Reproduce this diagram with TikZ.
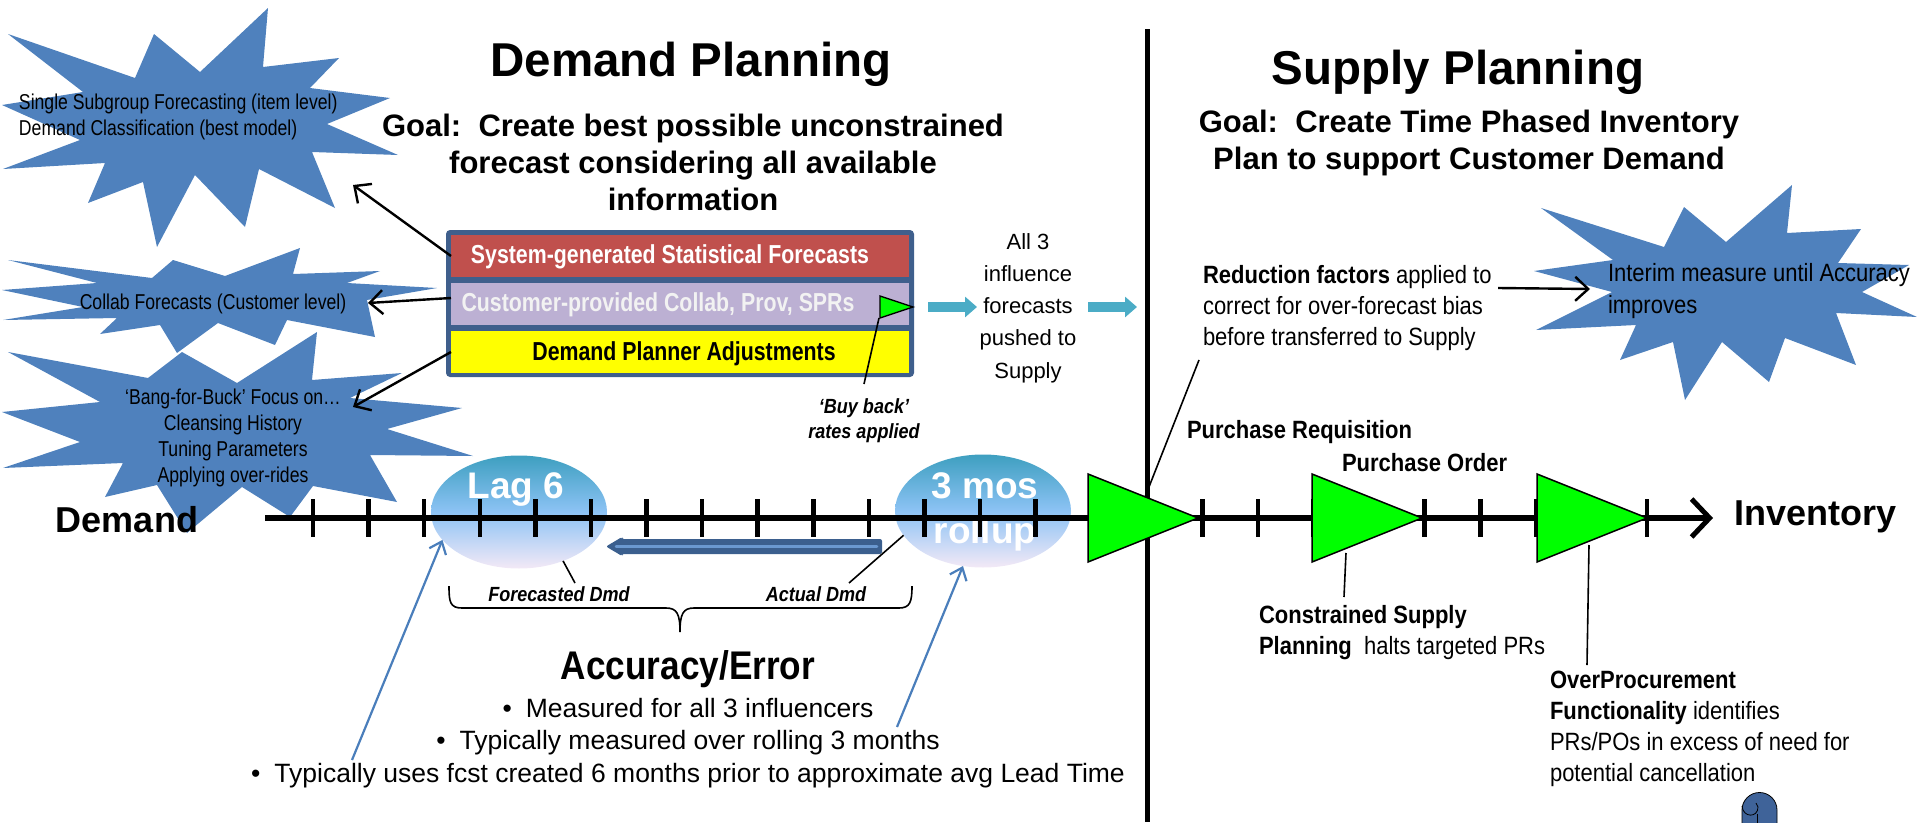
\documentclass[tikz,border=0pt]{standalone}
\usepackage{fontspec}
\setmainfont{Liberation Sans}
\newfontfamily\narrowfont[FakeStretch=0.82]{Liberation Sans}
\newfontfamily\semifont[FakeStretch=0.88]{Liberation Sans}
\usetikzlibrary{arrows.meta,shapes.geometric,calc}
\newcommand{\setfs}[2]{\fontsize{#1}{#2}\selectfont}

\definecolor{starblue}{HTML}{4F81BD}
\definecolor{framebl}{HTML}{3F5F8C}
\definecolor{rowred}{HTML}{C0504D}
\definecolor{rowlav}{HTML}{BCB0D3}
\definecolor{rowyel}{HTML}{FFFF00}
\definecolor{tealar}{HTML}{4BACC6}
\definecolor{ellTop}{HTML}{3E9FC0}
\definecolor{ellMid}{HTML}{8DC3F5}
\definecolor{ellBot}{HTML}{F3E9F6}
\definecolor{bigdark}{HTML}{3B5F8E}
\definecolor{biglight}{HTML}{6A98D0}
\definecolor{flaggreen}{HTML}{00FF00}
\definecolor{upblue}{HTML}{4A7EBB}
\definecolor{scrollbl}{HTML}{3F6399}

\tikzset{
  lbl/.style={inner sep=0pt, outer sep=0pt},
  headtxt/.style={lbl, font=\bfseries\setfs{47.5}{57}},
  goaltxt/.style={lbl, font=\bfseries\setfs{31}{37}, align=center},
  startxt/.style={lbl, font=\narrowfont\setfs{21.5}{26}},
  rowtxt/.style={lbl, font=\narrowfont\bfseries\setfs{26}{30}},
  rowbox/.style={lbl, minimum width=458pt, minimum height=42pt},
  axistxt/.style={lbl, font=\bfseries\setfs{36}{42}},
  elltxt/.style={lbl, text=white, font=\bfseries\setfs{37}{45}, align=center},
  smallit/.style={lbl, font=\semifont\bfseries\itshape\setfs{20.5}{25}, align=center},
  notetxt/.style={lbl, font=\semifont\setfs{25}{31}, align=left},
  pushtxt/.style={lbl, font=\setfs{22}{32.3}, align=center},
  bullettxt/.style={lbl, font=\setfs{26.5}{32.5}, align=center},
  blkarrow/.style={line width=2.4pt, -{Straight Barb[length=13pt,width=24pt,line width=2.4pt]}},
  uparrow/.style={upblue, line width=2.2pt, -{Straight Barb[length=11pt,width=18pt,line width=2.2pt]}},
  thinline/.style={line width=1.6pt},
  tealarrow/.style={tealar, line width=10pt, -{Triangle[length=12pt,width=20pt]}},
  tickmark/.style={line width=4.5pt},
  gtri/.style={fill=flaggreen, draw=black, line width=1.5pt, line join=miter},
  ellshape/.style={ellipse, lbl, minimum width=176pt, minimum height=113pt,
    top color=ellTop, bottom color=ellBot, middle color=ellMid},
}

\begin{document}
\begin{tikzpicture}[x=1pt,y=-1pt]
\useasboundingbox (0,0) rectangle (1917,822);

% ---- starbursts ----
\fill[starblue] (8,34) -- (135,78) -- (154,34) -- (200,72) -- (268,8) -- (263,67) -- (339,58) -- (310,88) -- (390,98) -- (327,124) -- (398,155) -- (312,152) -- (335,208) -- (259,169) -- (245,227) -- (195,175) -- (157,247) -- (143,182) -- (88,203) -- (105,163) -- (3,169) -- (80,140) -- (2,105) -- (83,92) -- cycle;
\fill[starblue] (8,260) -- (152,278) -- (173,260) -- (225,276) -- (300,248) -- (293,274) -- (380,271) -- (347,283) -- (437,288) -- (367,300) -- (375,337) -- (287,320) -- (275,345) -- (218,323) -- (177,353) -- (160,325) -- (100,334) -- (117,318) -- (3,320) -- (83,307) -- (2,290) -- (97,283) -- cycle;
\fill[starblue] (8,352) -- (148,378) -- (182,352) -- (237,383) -- (317,332) -- (312,380) -- (402,373) -- (350,398) -- (462,408) -- (387,429) -- (473,456) -- (370,455) -- (397,502) -- (313,486) -- (290,517) -- (242,487) -- (187,533) -- (157,485) -- (105,497) -- (123,463) -- (3,468) -- (80,442) -- (2,412) -- (100,402) -- cycle;
\fill[starblue] (1541,208) -- (1664,247) -- (1684,207) -- (1726,242) -- (1792,185) -- (1787,233) -- (1861,229) -- (1838,263) -- (1909,265) -- (1862,292) -- (1917,317) -- (1836,313) -- (1856,365) -- (1785,338) -- (1769,382) -- (1722,342) -- (1685,400) -- (1673,342) -- (1620,360) -- (1636,325) -- (1536,330) -- (1612,292) -- (1534,271) -- (1613,260) -- cycle;

\node[startxt, align=left, anchor=west] (s1t) at (19,117) {Single Subgroup Forecasting (item level)\\Demand Classification (best model)};
\node[startxt] (s2t) at (213,304) {Collab Forecasts (Customer level)};
\node[startxt, align=center] (s3t) at (233,438) {‘Bang-for-Buck’ Focus on…\\Cleansing History\\Tuning Parameters\\Applying over-rides};
\node[startxt, align=left, anchor=west, font=\semifont\setfs{25}{32}] (s4t) at (1608,291) {Interim measure until Accuracy\\improves};

% ---- headings ----
\node[headtxt] (dpT) at (691,64) {Demand Planning};
\node[goaltxt] (dpG) at (693,162) {Goal:~~Create best possible unconstrained\\forecast considering all available\\information};
\node[headtxt] (spT) at (1458,72) {Supply Planning};
\node[goaltxt] (spG) at (1469,143) {Goal:~~Create Time Phased Inventory\\Plan to support Customer Demand};

% ---- divider ----
\coordinate (divTop) at (1147,29);
\coordinate (divBot) at (1147,822);
\draw[line width=5pt] (divTop) -- (divBot);

% ---- forecast stack ----
\node[lbl, fill=framebl, rounded corners=4pt, minimum width=468pt, minimum height=147pt] (box) at (680,303.5) {};
\node[rowbox, fill=rowred] (rowA) at (680,256) {};
\node[rowbox, fill=rowlav] (rowB) at (680,304) {};
\node[rowbox, fill=rowyel] (rowC) at (680,352) {};
\node[rowtxt, text=white] (tA) at (670,257) {System-generated Statistical Forecasts};
\node[rowtxt, text=white!95!black] (tB) at (658,305) {Customer-provided Collab, Prov, SPRs};
\node[rowtxt] (tC) at (684,354) {Demand Planner Adjustments};

\fill[flaggreen, draw=black, line width=1.3pt] (880,296) -- (913,307) -- (880,318) -- cycle;
\coordinate (flagFoot) at (879,318);
\node[smallit] (bb) at (864,421) {‘Buy back’\\rates applied};
\coordinate (bbTop) at (864,384);
\draw[thinline] (flagFoot) -- (bbTop);

% arrows from stack to starbursts
\coordinate (s1a) at (353,185);
\coordinate (s2a) at (368,303);
\coordinate (s3a) at (353,407);
\draw[blkarrow] (rowA.west) -- (s1a);
\draw[blkarrow] ([yshift=6pt]rowB.west) -- (s2a);
\draw[blkarrow] (rowC.west) -- (s3a);

% ---- push to supply ----
\coordinate (ta1s) at (928,307); \coordinate (ta1e) at (977,307);
\coordinate (ta2s) at (1088,307); \coordinate (ta2e) at (1137,307);
\draw[tealarrow] (ta1s) -- (ta1e);
\draw[tealarrow] (ta2s) -- (ta2e);
\node[pushtxt] (push) at (1028,308) {All 3\\influence\\forecasts\\pushed to\\Supply};

% ---- time line ----
\node[ellshape] (lagE) at (519,512) {};
\node[ellshape] (rollE) at (983,511) {};
\node[elltxt] (lagT) at (516,489) {Lag 6};
\node[elltxt] (rollT) at (985,512) {3 mos\\rollup};

\node[axistxt] (dem) at (127,520) {Demand};
\node[axistxt] (inv) at (1815,517) {Inventory};
\coordinate (axS) at (265,518);
\coordinate (axE) at (1713,518);
\draw[line width=5.5pt, -{Straight Barb[length=18pt,width=38pt,line width=5pt]}] (axS) -- (axE);
\foreach \k in {0,...,24}
  \draw[tickmark] ({313+55.583*\k},499) -- ({313+55.583*\k},537);

% backwards blue arrow
\fill[bigdark, rounded corners=2pt] (882,539) -- (622,539) -- (622,537) -- (606,546.5) -- (622,556) -- (622,554) -- (882,554) -- cycle;
\coordinate (bgR) at (877,546.5);
\coordinate (bgL) at (616,546.5);
\draw[biglight, line width=2.5pt, line cap=round] (bgR) -- (bgL);

% milestones
\fill[gtri] (1088,474) -- (1198,518) -- (1088,562) -- cycle;
\fill[gtri] (1312,474) -- (1422,518) -- (1312,562) -- cycle;
\fill[gtri] (1537,474) -- (1647,518) -- (1537,562) -- cycle;

% demand labels and brace
\node[smallit] (fdm) at (559,594) {Forecasted Dmd};
\node[smallit] (adm) at (816,594) {Actual Dmd};
\coordinate (fdmTop) at (575,583);
\coordinate (admTop) at (849,583);
\draw[thinline] (lagE.-48) -- (fdmTop);
\draw[thinline] (rollE.197) -- (admTop);
\draw[line width=1.6pt] (449,586) .. controls (449,602) and (450,608) .. (462,608) -- (666,608)
  .. controls (677,608) and (680,614) .. (680,632)
  .. controls (680,614) and (683,608) .. (694,608) -- (899,608)
  .. controls (910,608) and (912,602) .. (912,586);

\node[lbl, font=\semifont\bfseries\setfs{40}{46}] (acc) at (688,669) {Accuracy/Error};
\node[bullettxt] (bul) at (688,743) {\textbullet\hspace{14pt}Measured for all 3 influencers\\\textbullet\hspace{14pt}Typically measured over rolling 3 months\\\textbullet\hspace{14pt}Typically uses fcst created 6 months prior to approximate avg Lead Time};

\coordinate (upA) at (352,760);
\coordinate (upB) at (897,727);
\draw[uparrow] (upA) -- (lagE.200);
\draw[uparrow] (upB) -- (rollE.250);

% ---- supply notes ----
\node[notetxt, anchor=west] (red) at (1203,308) {\textbf{Reduction factors} applied to\\correct for over-forecast bias\\before transferred to Supply};
\coordinate (redA) at (1498,288);
\coordinate (redB) at (1590,289);
\draw[blkarrow] (redA) -- (redB);
\coordinate (redL) at (1199,360);
\coordinate (tri1Hit) at (1145,497);
\draw[thinline] (redL) -- (tri1Hit);

\node[notetxt, anchor=west, font=\semifont\bfseries\setfs{25}{31}] (pr) at (1187,432) {Purchase Requisition};
\node[notetxt, anchor=west, font=\semifont\bfseries\setfs{25}{31}] (po) at (1342,463) {Purchase Order};

\node[notetxt, anchor=west] (csp) at (1259,633) {\textbf{Constrained Supply}\\\textbf{Planning}~~halts targeted PRs};
\coordinate (tri2Foot) at (1346,553);
\coordinate (cspTop) at (1344,597);
\draw[thinline] (tri2Foot) -- (cspTop);

\node[notetxt, anchor=west] (opf) at (1550,729) {\textbf{OverProcurement}\\\textbf{Functionality} identifies\\PRs/POs in excess of need for\\potential cancellation};
\coordinate (tri3Foot) at (1589,545);
\coordinate (opfTop) at (1587,665);
\draw[thinline] (tri3Foot) -- (opfTop);

% small scroll symbol at the lower edge
\begin{scope}
\clip (0,0) rectangle (1917,822);
\fill[scrollbl, draw=black, line width=0.8pt] (1742,830) -- (1742,810)
  arc[start angle=180, end angle=0, radius=17.5pt] -- (1777,830) -- cycle;
\draw[line width=0.8pt] (1742,806) .. controls (1743,818) and (1758,818) .. (1758,807) -- (1756,803);
\draw[line width=0.8pt] (1757,814) -- (1757,830);
\end{scope}
\end{tikzpicture}
\end{document}
